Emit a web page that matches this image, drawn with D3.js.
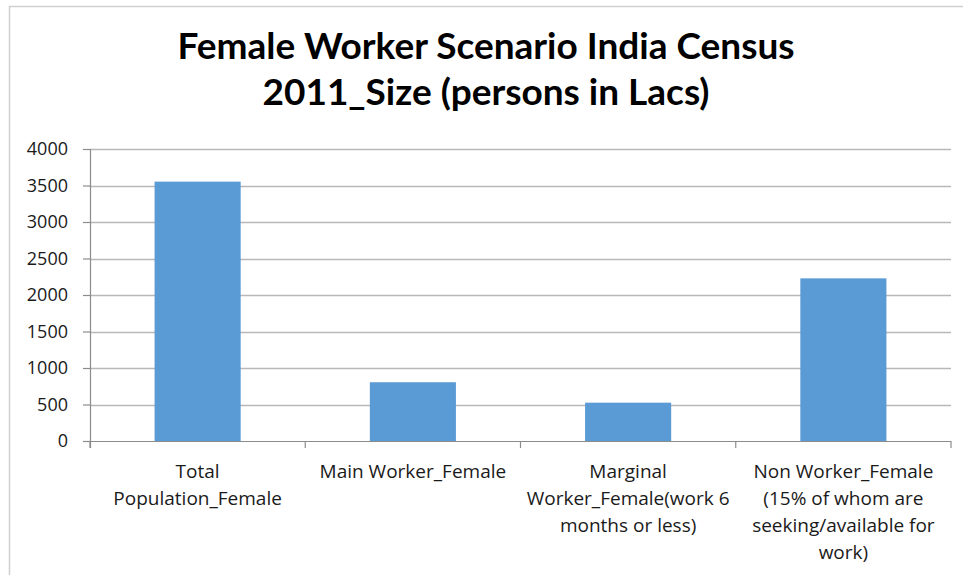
<!DOCTYPE html>
<html>
<head>
<meta charset="utf-8">
<script src="https://cdn.jsdelivr.net/npm/d3@7"></script>
<style>
  body { margin: 0; background: #fff; }
  svg { display: block; }
  .tick text { font-family: "Open Sans", Lato, sans-serif; }
</style>
</head>
<body>
<div id="graph"></div>
<script>
// chart data
var titleLines = ["Female Worker Scenario India Census", "2011_Size (persons in Lacs)"];
var categories = [
    "Total Population_Female",
    "Main Worker_Female",
    "Marginal Worker_Female(work 6 months or less)",
    "Non Worker_Female (15% of whom are seeking/available for work)"
];
// how each category label is wrapped under its bar
var categoryLines = [
    ["Total", "Population_Female"],
    ["Main Worker_Female"],
    ["Marginal", "Worker_Female(work 6", "months or less)"],
    ["Non Worker_Female", "(15% of whom are", "seeking/available for", "work)"]
];
var values = [3553, 805, 525, 2228];
var yTicks = [0, 500, 1000, 1500, 2000, 2500, 3000, 3500, 4000];

var W = 963, H = 575;
var margin = {top: 149, right: 12, bottom: 134, left: 90},
    width = W - margin.left - margin.right,
    height = H - margin.top - margin.bottom;

var svg = d3.select("#graph").append("svg")
    .attr("width", W)
    .attr("height", H);

// outer frame (runs past the right and bottom edge of the picture)
svg.append("rect")
    .attr("x", 9.5).attr("y", 6.5)
    .attr("width", W + 20).attr("height", H + 20)
    .attr("fill", "none")
    .attr("stroke", "#d0d0d0")
    .attr("stroke-width", 1.5);

// title
svg.append("g").selectAll("text")
    .data(titleLines)
    .enter().append("text")
    .attr("x", 486)
    .attr("y", function (d, i) { return 59 + i * 46; })
    .attr("text-anchor", "middle")
    .attr("font-family", "Lato, 'Open Sans', sans-serif")
    .attr("font-weight", "bold")
    .attr("font-size", 37)
    .attr("fill", "#000")
    .text(function (d) { return d; });

var x = d3.scaleBand()
    .domain(categories)
    .range([0, width])
    .paddingInner(0.6)
    .paddingOuter(0.3);

var y = d3.scaleLinear()
    .domain([0, 4000])
    .range([height, 0]);

var g = svg.append("g")
    .attr("transform", "translate(" + margin.left + "," + margin.top + ")");

// horizontal grid lines
g.append("g")
    .selectAll("line")
    .data(yTicks.slice(1))
    .enter().append("line")
    .attr("x1", 0).attr("x2", width)
    .attr("y1", function (d) { return Math.round(y(d)) + 0.5; })
    .attr("y2", function (d) { return Math.round(y(d)) + 0.5; })
    .attr("stroke", "#b8b8b8")
    .attr("stroke-width", 1.5);

// bars
g.selectAll(".bar")
    .data(values)
    .enter().append("rect")
    .attr("class", "bar")
    .attr("x", function (d, i) { return x(categories[i]); })
    .attr("y", function (d) { return y(d); })
    .attr("width", x.bandwidth())
    .attr("height", function (d) { return height - y(d); })
    .attr("fill", "#5b9bd5");

// y axis
var yAxis = g.append("g")
    .attr("class", "axis axis--y")
    .call(d3.axisLeft(y).tickValues(yTicks).tickFormat(d3.format("d"))
        .tickSize(7).tickPadding(15).tickSizeOuter(0));
yAxis.select(".domain").remove();
yAxis.selectAll(".tick line").attr("stroke", "#8c8c8c").attr("stroke-width", 1.2);
yAxis.selectAll(".tick text")
    .attr("font-size", 18)
    .attr("fill", "#1a1a1a");

// vertical axis line, including the tick that hangs below zero
g.append("line")
    .attr("x1", 0.5).attr("x2", 0.5)
    .attr("y1", 0).attr("y2", height + 7)
    .attr("stroke", "#8c8c8c")
    .attr("stroke-width", 1.2);

// x axis: baseline + tick marks between categories
var step = x.step();
var edges = d3.range(categories.length + 1).map(function (i) {
    return x(categories[0]) - x.paddingOuter() * step + i * step;
});
g.append("line")
    .attr("x1", 0).attr("x2", width)
    .attr("y1", height + 0.5).attr("y2", height + 0.5)
    .attr("stroke", "#8c8c8c")
    .attr("stroke-width", 1.2);
g.append("g").selectAll("line")
    .data(edges)
    .enter().append("line")
    .attr("x1", function (d) { return d; })
    .attr("x2", function (d) { return d; })
    .attr("y1", height).attr("y2", height + 7)
    .attr("stroke", "#8c8c8c")
    .attr("stroke-width", 1.2);

// category labels, wrapped
var labels = g.append("g").selectAll("text")
    .data(categories)
    .enter().append("text")
    .attr("text-anchor", "middle")
    .attr("font-family", "'Open Sans', Lato, sans-serif")
    .attr("font-size", 19)
    .attr("fill", "#1a1a1a")
    .attr("transform", function (d) {
        return "translate(" + (x(d) + x.bandwidth() / 2) + "," + (height + 37) + ")";
    });
labels.selectAll("tspan")
    .data(function (d, i) { return categoryLines[i]; })
    .enter().append("tspan")
    .attr("x", 0)
    .attr("y", function (d, i) { return i * 27; })
    .text(function (d) { return d; });
</script>
</body>
</html>
